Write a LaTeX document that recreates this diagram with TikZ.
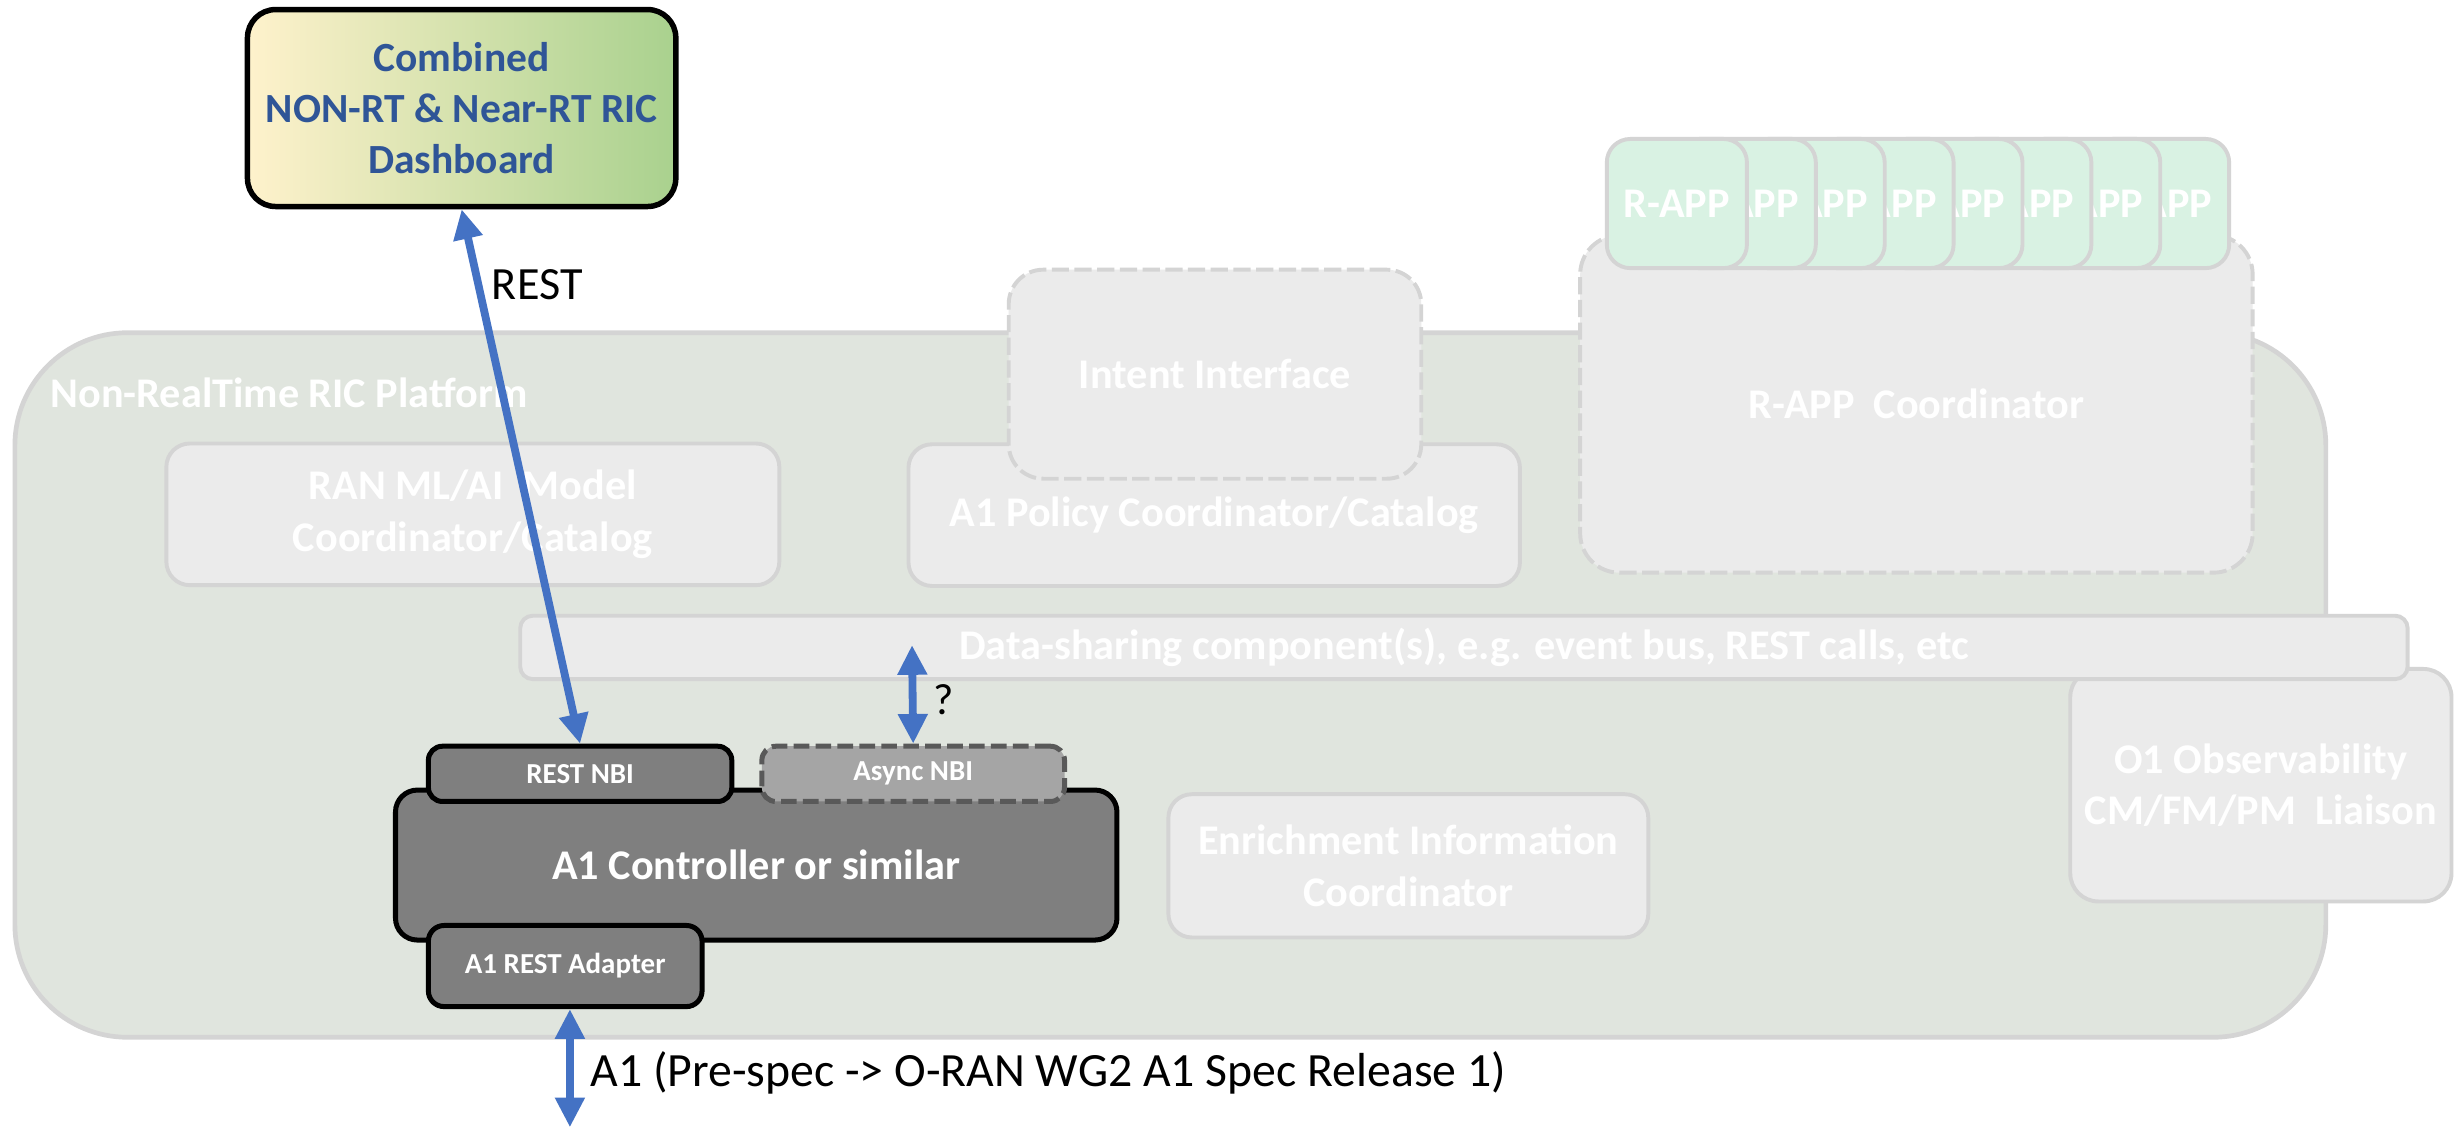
\documentclass[tikz,border=0pt]{standalone}
\usepackage{fontspec}
\setmainfont{Carlito}
\usetikzlibrary{positioning,arrows.meta,calc}

\definecolor{linkblue}{HTML}{4472C4}
\definecolor{dashtext}{HTML}{2F5597}
\definecolor{dashleft}{HTML}{FFF2CC}
\definecolor{dashright}{HTML}{A9D18E}
\definecolor{platbg}{HTML}{E0E5DE}
\definecolor{ghostbg}{HTML}{EBEBEB}
\definecolor{ghostline}{HTML}{D4D4D4}
\definecolor{rappbg}{HTML}{D9F2E3}
\definecolor{ctrlgray}{HTML}{7F7F7F}
\definecolor{asyncgray}{HTML}{A5A5A5}
\definecolor{asyncline}{HTML}{595959}

\newcommand{\bigtxt}{\bfseries\fontsize{27}{33}\selectfont}
\newcommand{\smalltxt}{\bfseries\fontsize{18.5}{22}\selectfont}

\begin{document}
\begin{tikzpicture}[x=1pt,y=-1pt,
  ghost/.style={draw=ghostline,line width=2.5pt,fill=ghostbg,rounded corners=15pt,
    text=white,font=\bigtxt,align=center,inner sep=0pt},
  ghostdash/.style={ghost,dash pattern=on 11pt off 3.5pt,rounded corners=22pt},
  rapp/.style={draw=ghostline,line width=2.5pt,fill=rappbg,rounded corners=15pt,
    text=white,font=\bigtxt,minimum width=89.5pt,minimum height=82.5pt,inner sep=0pt},
  ctrl/.style={draw=black,line width=3.2pt,fill=ctrlgray,rounded corners=9pt,
    text=white,font=\smalltxt,inner sep=0pt},
  link/.style={draw=linkblue,line width=5pt,
    {Triangle[width=18pt,length=19pt]}-{Triangle[width=18pt,length=19pt]}},
  lbl/.style={anchor=west,inner sep=0pt,font=\fontsize{30.5}{30.5}\selectfont}]

  \useasboundingbox (0,0) rectangle (1568,720);
  \clip (0,0) rectangle (1568,720);
  \fill[white] (0,0) rectangle (1568,720);

  % dashboard on top
  \node[draw=black,line width=3.5pt,rounded corners=18pt,left color=dashleft,right color=dashright,
    minimum width=273.6pt,minimum height=125.8pt,inner sep=0pt,align=center,
    text=dashtext,font=\bfseries\fontsize{26.5}{32.4}\selectfont]
    (dash) at (294.85,69) {Combined\\NON-RT \& Near-RT RIC\\Dashboard};

  % platform frame
  \node[draw=ghostline,line width=3pt,fill=platbg,rounded corners=72pt,
    minimum width=1476pt,minimum height=450pt] (platform) at (747.5,437.5) {};
  \node[anchor=west,inner sep=0pt,text=white,font=\bigtxt] (plattitle) at (32,251)
    {Non-RealTime RIC Platform};

  % catalogs and coordinators
  \node[ghost,minimum width=391.5pt,minimum height=90.5pt] (ranml) at (302,328.5)
    {RAN ML/AI\ \ Model\\Coordinator/Catalog};
  \node[ghost,minimum width=390.5pt,minimum height=90.5pt] (a1pol) at (775.5,329)
    {A1 Policy Coordinator/Catalog};
  \node[ghostdash,minimum width=263.5pt,minimum height=133.5pt] (intent) at (776,239)
    {Intent Interface};
  \node[ghostdash,rounded corners=25pt,minimum width=429.5pt,minimum height=215.5pt] (rappco) at (1224,258)
    {R-APP\ \ Coordinator};

  % stacked r-apps, back to front
  \foreach \i in {7,...,0}
    \node[rapp] (rapp\i) at ({1071+44*\i},130) {R-APP};

  \node[ghost,rounded corners=18pt,minimum width=243.5pt,minimum height=148.5pt] (o1) at (1444,501.5)
    {O1 Observability\\CM/FM/PM\ \ Liaison};
  \node[ghost,rounded corners=8pt,minimum width=1205.5pt,minimum height=40.5pt] (databus) at (935,413.5)
    {Data-sharing component(s), e.g. event bus, REST calls, etc};
  \node[ghost,minimum width=306.5pt,minimum height=91.5pt] (enrich) at (899.5,553)
    {Enrichment Information\\Coordinator};

  % a1 controller and its interfaces
  \node[ctrl,rounded corners=14pt,font=\bigtxt,minimum width=460.8pt,minimum height=95.8pt] (ctrl) at (483,552.5)
    {A1 Controller or similar};
  \node[ctrl,minimum width=193.8pt,minimum height=35.3pt] (restnbi) at (370.5,494.25) {REST NBI};
  \node[ctrl,draw=asyncline,fill=asyncgray,dash pattern=on 10pt off 4pt,
    minimum width=193.3pt,minimum height=35.3pt] (async) at (583.25,494.25) {Async NBI};
  \node[ctrl,rounded corners=10pt,minimum width=174.8pt,minimum height=51.8pt] (adapter) at (361,617)
    {A1 REST Adapter};

  % links
  \draw[link] (dash.south) -- (restnbi.north);
  \node[lbl,font=\fontsize{29.5}{29.5}\selectfont] (restlbl) at (314,182) {REST};

  \coordinate (busq) at (582.5,412);
  \draw[link] (async.north) -- (busq);
  \node[lbl,font=\fontsize{28}{28}\selectfont] (qlbl) at (596,447) {?};

  \coordinate (a1end) at (364,720);
  \draw[link] (a1end |- adapter.south) -- (a1end);
  \node[lbl] (a1lbl) at (377,685) {A1 (Pre-spec -> O-RAN WG2 A1 Spec Release 1)};
\end{tikzpicture}
\end{document}
